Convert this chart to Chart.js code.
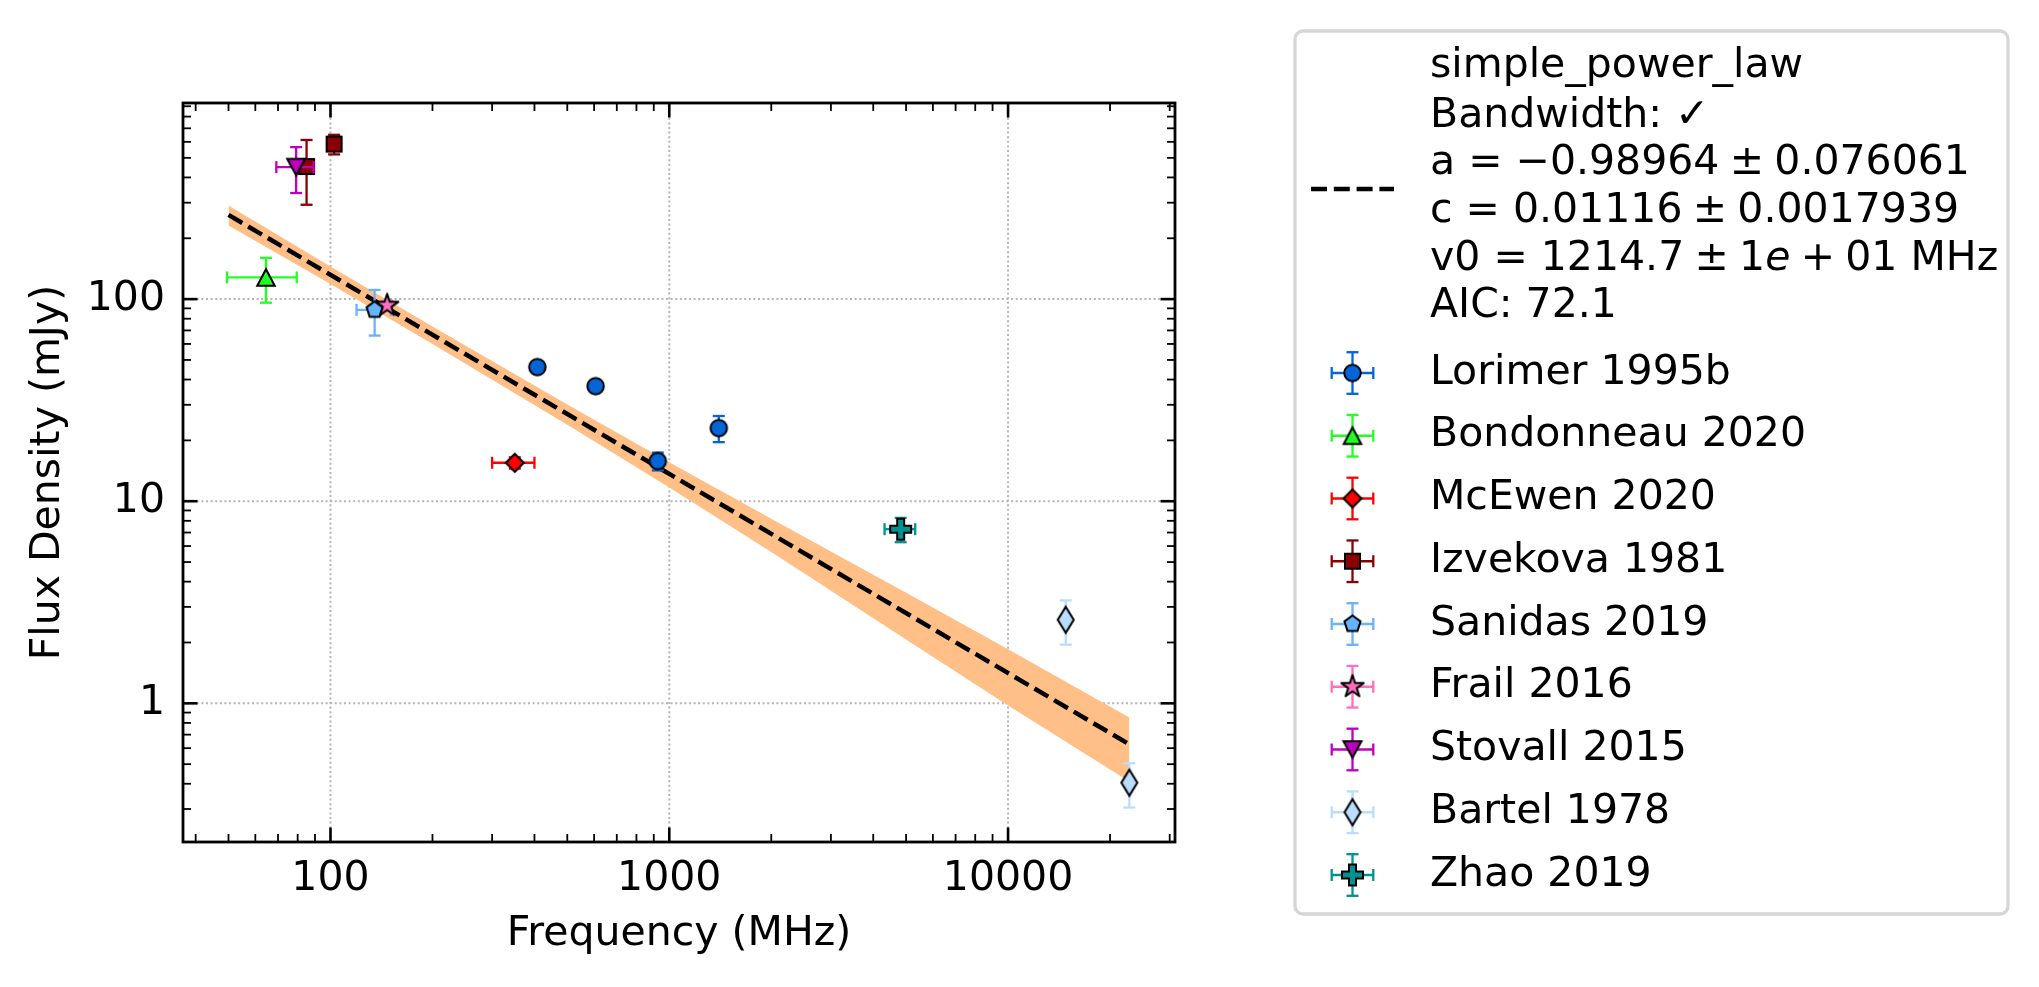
<!DOCTYPE html>
<html>
<head>
<meta charset="utf-8">
<script src="https://cdn.jsdelivr.net/npm/chart.js@4.4.1/dist/chart.umd.min.js"></script>
<style>
html,body{margin:0;padding:0;background:#fff;overflow:hidden}
canvas{display:block}
</style>
</head>
<body>
<canvas id="c" width="2039" height="987" style="width:2039px;height:987px"></canvas>
<script>
// ---------------- data ----------------
const xTickValues = [100, 1000, 10000];
const yTickValues = [1, 10, 100];
const xRange = [36.7, 31100];
const yRange = [0.206, 934];

const fitFreq = [50, 22800];
const fitFlux = [261, 0.627];
const bandFreq  = [50, 100, 200, 500, 1000, 2000, 5000, 10000, 22800];
const bandUpper = [290.5, 145, 73.3, 30.1, 15.6, 8.2, 3.52, 1.85, 0.85];
const bandLower = [231.5, 118.7, 59.9, 23.9, 11.7, 5.6, 2.07, 0.975, 0.41];

const seriesNames = ['Lorimer 1995b', 'Bondonneau 2020', 'McEwen 2020', 'Izvekova 1981',
                     'Sanidas 2019', 'Frail 2016', 'Stovall 2015', 'Bartel 1978', 'Zhao 2019'];

const lorimerFreq = [408, 606, 925, 1400];
const lorimerFlux = [46.1, 37.1, 15.8, 23.0];
const lorimerFreqErr = [0, 0, 0, 0];
const lorimerFluxErr = [2.0, 1.5, 1.6, 3.4];

const bondonneauFreq = [64.5];
const bondonneauFlux = [128];
const bondonneauFreqErr = [15];
const bondonneauFluxErr = [32];

const mcewenFreq = [350];
const mcewenFlux = [15.5];
const mcewenFreqErr = [50];
const mcewenFluxErr = [1.0];

const izvekovaFreq = [85, 102.5];
const izvekovaFlux = [453, 585];
const izvekovaFreqErr = [0, 0];
const izvekovaFluxErr = [160, 65];

const sanidasFreq = [135];
const sanidasFlux = [88.5];
const sanidasFreqErr = [15.6];
const sanidasFluxErr = [22.5];

const frailFreq = [147];
const frailFlux = [93];
const frailFreqErr = [0];
const frailFluxErr = [5];

const stovallFreq = [79.2];
const stovallFlux = [450];
const stovallFreqErr = [10];
const stovallFluxErr = [115];

const bartelFreq = [14800, 22800];
const bartelFlux = [2.59, 0.405];
const bartelFreqErr = [0, 0];
const bartelFluxErr = [0.64, 0.10];

const zhaoFreq = [4820];
const zhaoFlux = [7.27];
const zhaoFreqErr = [500];
const zhaoFluxErr = [1.0];

const SP = '\u2005';
const fitLabelLines = ['simple_power_law', 'Bandwidth: \u2713',
                       'a = \u22120.98964' + SP + '\u00b1' + SP + '0.076061',
                       'c = 0.01116' + SP + '\u00b1' + SP + '0.0017939',
                       'v0 = 1214.7' + SP + '\u00b1' + SP + '1e' + SP + '+' + SP + '01 MHz',
                       'AIC: 72.1'];
const xTitle = 'Frequency (MHz)';
const yTitle = 'Flux Density (mJy)';

// ---------------- styling ----------------
const FONT = "'DejaVu Sans', 'Liberation Sans', sans-serif";
const FS = 41;
const seriesStyles = [
  {color: '#0565d6', shape: 'circle',      w: 16.5, h: 16.5},
  {color: '#22ff22', shape: 'triUp',       w: 17.5, h: 16.5},
  {color: '#ff0000', shape: 'diamond',     w: 18,   h: 18},
  {color: '#8b0000', shape: 'square',      w: 15,   h: 15},
  {color: '#66b3ff', shape: 'pentagon',    w: 17,   h: 17},
  {color: '#ff6fbe', shape: 'star',        w: 23.5, h: 23.5},
  {color: '#bf00bf', shape: 'triDown',     w: 18,   h: 16.5},
  {color: '#b9dcff', shape: 'thinDiamond', w: 16,   h: 26},
  {color: '#009191', shape: 'plus',        w: 21,   h: 21}
];

const seriesData = [
  [lorimerFreq, lorimerFlux, lorimerFreqErr, lorimerFluxErr],
  [bondonneauFreq, bondonneauFlux, bondonneauFreqErr, bondonneauFluxErr],
  [mcewenFreq, mcewenFlux, mcewenFreqErr, mcewenFluxErr],
  [izvekovaFreq, izvekovaFlux, izvekovaFreqErr, izvekovaFluxErr],
  [sanidasFreq, sanidasFlux, sanidasFreqErr, sanidasFluxErr],
  [frailFreq, frailFlux, frailFreqErr, frailFluxErr],
  [stovallFreq, stovallFlux, stovallFreqErr, stovallFluxErr],
  [bartelFreq, bartelFlux, bartelFreqErr, bartelFluxErr],
  [zhaoFreq, zhaoFlux, zhaoFreqErr, zhaoFluxErr]
];

function makeMarker(shape, color, w, h) {
  const lw = 2, pad = 7;
  const c = document.createElement('canvas');
  c.width = Math.round(w + 2 * pad);
  c.height = Math.round(h + 2 * pad);
  const g = c.getContext('2d');
  g.translate(c.width / 2, c.height / 2);
  const rx = w / 2, ry = h / 2;
  g.beginPath();
  const poly = pts => { g.moveTo(pts[0][0], pts[0][1]); for (let i = 1; i < pts.length; i++) g.lineTo(pts[i][0], pts[i][1]); g.closePath(); };
  if (shape === 'circle') g.arc(0, 0, rx, 0, Math.PI * 2);
  else if (shape === 'triUp') poly([[0, -ry], [rx, ry], [-rx, ry]]);
  else if (shape === 'triDown') poly([[0, ry], [rx, -ry], [-rx, -ry]]);
  else if (shape === 'square') g.rect(-rx, -ry, w, h);
  else if (shape === 'diamond' || shape === 'thinDiamond') poly([[0, -ry], [rx, 0], [0, ry], [-rx, 0]]);
  else if (shape === 'pentagon') {
    const pts = [];
    for (let k = 0; k < 5; k++) { const a = -Math.PI / 2 + k * 2 * Math.PI / 5; pts.push([rx * Math.cos(a), rx * Math.sin(a)]); }
    poly(pts);
  } else if (shape === 'star') {
    const pts = [];
    for (let k = 0; k < 10; k++) { const r = k % 2 ? rx * 0.381966 : rx; const a = -Math.PI / 2 + k * Math.PI / 5; pts.push([r * Math.cos(a), r * Math.sin(a)]); }
    poly(pts);
  } else if (shape === 'plus') {
    const a = rx, b = rx / 3;
    poly([[-b, -a], [b, -a], [b, -b], [a, -b], [a, b], [b, b], [b, a], [-b, a], [-b, b], [-a, b], [-a, -b], [-b, -b]]);
  }
  g.fillStyle = color;
  g.fill();
  g.lineWidth = lw;
  g.lineJoin = shape === 'star' ? 'round' : 'miter';
  g.strokeStyle = '#000';
  g.stroke();
  return c;
}

const markerCanvases = seriesStyles.map(s => makeMarker(s.shape, s.color, s.w, s.h));

// ---------------- datasets ----------------
const DASH = [16, 6.8];
const datasets = [
  {
    type: 'line', label: 'band_upper',
    data: bandFreq.map((f, i) => ({x: f, y: bandUpper[i]})),
    borderWidth: 0, borderColor: 'rgba(0,0,0,0)', pointRadius: 0, tension: 0,
    fill: '+1', backgroundColor: '#ffbf86', order: 100
  },
  {
    type: 'line', label: 'band_lower',
    data: bandFreq.map((f, i) => ({x: f, y: bandLower[i]})),
    borderWidth: 0, borderColor: 'rgba(0,0,0,0)', pointRadius: 0, tension: 0,
    fill: false, order: 100
  },
  {
    type: 'line', label: 'simple_power_law',
    data: fitFreq.map((f, i) => ({x: f, y: fitFlux[i]})),
    borderColor: '#000', borderWidth: 4.5, borderDash: DASH, borderCapStyle: 'butt',
    pointRadius: 0, tension: 0, fill: false, order: 99
  }
];
seriesData.forEach((d, i) => {
  datasets.push({
    type: 'scatter', label: seriesNames[i],
    data: d[0].map((f, j) => ({x: f, y: d[1][j]})),
    errX: d[2], errY: d[3], errColor: seriesStyles[i].color,
    pointStyle: markerCanvases[i], pointRadius: 10, pointHoverRadius: 10,
    showLine: false, order: 50 - i
  });
});

// ---------------- plugins ----------------
const ERR_LW = 2.3, CAP = 6;
function errLine(ctx, x1, y1, x2, y2) { ctx.beginPath(); ctx.moveTo(x1, y1); ctx.lineTo(x2, y2); ctx.stroke(); }

const gridPlugin = {
  id: 'mplGrid',
  beforeDatasetsDraw(chart) {
    const {ctx, chartArea: a, scales: {x, y}} = chart;
    ctx.save();
    ctx.strokeStyle = '#b4b4b4';
    ctx.lineWidth = 2;
    ctx.setLineDash([2, 2.6]);
    xTickValues.forEach(v => { const p = x.getPixelForValue(v); errLine(ctx, p, a.bottom, p, a.top); });
    yTickValues.forEach(v => { const p = y.getPixelForValue(v); errLine(ctx, a.left, p, a.right, p); });
    ctx.restore();
  }
};

const errPlugin = {
  id: 'errbars',
  beforeDatasetDraw(chart, args) {
    const ds = chart.data.datasets[args.index];
    if (!ds.errY) return;
    const {ctx, scales: {x, y}} = chart;
    ctx.save();
    ctx.strokeStyle = ds.errColor;
    ctx.lineWidth = ERR_LW;
    ds.data.forEach((p, j) => {
      const px = x.getPixelForValue(p.x), py = y.getPixelForValue(p.y);
      const xe = ds.errX[j], ye = ds.errY[j];
      if (xe > 0) {
        const x1 = x.getPixelForValue(p.x - xe), x2 = x.getPixelForValue(p.x + xe);
        errLine(ctx, x1, py, x2, py);
        errLine(ctx, x1, py - CAP, x1, py + CAP);
        errLine(ctx, x2, py - CAP, x2, py + CAP);
      }
      if (ye > 0) {
        const y1 = y.getPixelForValue(p.y + ye), y2 = y.getPixelForValue(p.y - ye);
        errLine(ctx, px, y1, px, y2);
        errLine(ctx, px - CAP, y1, px + CAP, y1);
        errLine(ctx, px - CAP, y2, px + CAP, y2);
      }
    });
    ctx.restore();
  }
};

function minorValues(decades, lo, hi) {
  const out = [];
  decades.forEach(d => { for (let k = 2; k <= 9; k++) { const v = k * d; if (v > lo && v < hi) out.push(v); } });
  return out;
}

const framePlugin = {
  id: 'frame',
  afterDatasetsDraw(chart) {
    const {ctx, chartArea: a, scales: {x, y}} = chart;
    ctx.save();
    ctx.strokeStyle = '#000';
    const tx = (v, len, w) => { const p = x.getPixelForValue(v); ctx.lineWidth = w; errLine(ctx, p, a.bottom, p, a.bottom - len); errLine(ctx, p, a.top, p, a.top + len); };
    const ty = (v, len, w) => { const p = y.getPixelForValue(v); ctx.lineWidth = w; errLine(ctx, a.left, p, a.left + len, p); errLine(ctx, a.right, p, a.right - len, p); };
    minorValues([10, 100, 1000, 10000], xRange[0], xRange[1]).forEach(v => tx(v, 8, 1.8));
    minorValues([0.1, 1, 10, 100], yRange[0], yRange[1]).forEach(v => ty(v, 8, 1.8));
    xTickValues.forEach(v => tx(v, 14.5, 2.6));
    yTickValues.forEach(v => ty(v, 14.5, 2.6));
    ctx.lineWidth = 2.8;
    ctx.strokeRect(a.left, a.top, a.right - a.left, a.bottom - a.top);
    ctx.restore();
  }
};

function roundRectPath(ctx, x1, y1, x2, y2, r) {
  ctx.beginPath();
  ctx.moveTo(x1 + r, y1);
  ctx.lineTo(x2 - r, y1); ctx.arcTo(x2, y1, x2, y1 + r, r);
  ctx.lineTo(x2, y2 - r); ctx.arcTo(x2, y2, x2 - r, y2, r);
  ctx.lineTo(x1 + r, y2); ctx.arcTo(x1, y2, x1, y2 - r, r);
  ctx.lineTo(x1, y1 + r); ctx.arcTo(x1, y1, x1 + r, y1, r);
  ctx.closePath();
}

function drawLabelLine(ctx, text, x, y) {
  const m = text.match(/^(.*\d)e(\s\+.*)$/);
  ctx.font = `${FS}px ${FONT}`;
  if (!m) { ctx.fillText(text, x, y); return; }
  ctx.fillText(m[1], x, y);
  let cx = x + ctx.measureText(m[1]).width;
  ctx.font = `italic ${FS}px ${FONT}`;
  ctx.fillText('e', cx, y);
  cx += ctx.measureText('e').width;
  ctx.font = `${FS}px ${FONT}`;
  ctx.fillText(m[2], cx, y);
}

const legendPlugin = {
  id: 'mplLegend',
  afterDraw(chart) {
    const ctx = chart.ctx;
    ctx.save();
    roundRectPath(ctx, 1295, 31, 2008, 914, 8);
    ctx.fillStyle = '#ffffff';
    ctx.fill();
    ctx.strokeStyle = '#d6d6d6';
    ctx.lineWidth = 3.3;
    ctx.stroke();

    // fit line handle
    ctx.strokeStyle = '#000';
    ctx.lineWidth = 4.5;
    ctx.lineCap = 'butt';
    ctx.setLineDash(DASH);
    errLine(ctx, 1311, 189, 1394, 189);
    ctx.setLineDash([]);

    ctx.fillStyle = '#000';
    ctx.textAlign = 'left';
    ctx.textBaseline = 'middle';
    const lineY = [66, 116, 163.5, 211, 259, 306];
    fitLabelLines.forEach((t, i) => drawLabelLine(ctx, t, 1430, lineY[i]));

    seriesNames.forEach((name, i) => {
      const yc = 373 + 62.75 * i, xc = 1352.5;
      ctx.strokeStyle = seriesStyles[i].color;
      ctx.lineWidth = ERR_LW;
      const e = 20.8;
      errLine(ctx, xc - e, yc, xc + e, yc);
      errLine(ctx, xc - e, yc - CAP, xc - e, yc + CAP);
      errLine(ctx, xc + e, yc - CAP, xc + e, yc + CAP);
      errLine(ctx, xc, yc - e, xc, yc + e);
      errLine(ctx, xc - CAP, yc - e, xc + CAP, yc - e);
      errLine(ctx, xc - CAP, yc + e, xc + CAP, yc + e);
      const mc = markerCanvases[i];
      ctx.drawImage(mc, xc - mc.width / 2, yc - mc.height / 2);
      ctx.fillStyle = '#000';
      ctx.font = `${FS}px ${FONT}`;
      ctx.fillText(name, 1430, yc);
    });
    ctx.restore();
  }
};

// ---------------- chart ----------------
const tickFont = {family: FONT, size: FS};
new Chart(document.getElementById('c'), {
  type: 'scatter',
  data: {datasets},
  options: {
    responsive: false,
    devicePixelRatio: 1,
    animation: false,
    events: [],
    layout: {padding: {left: 0, top: 103, right: 864, bottom: 0}},
    plugins: {legend: {display: false}, tooltip: {enabled: false}},
    scales: {
      x: {
        type: 'logarithmic', position: 'bottom', min: xRange[0], max: xRange[1],
        afterBuildTicks: s => { s.ticks = xTickValues.map(v => ({value: v})); },
        afterFit: s => { s.height = 145; },
        grid: {display: false, drawTicks: false},
        border: {display: false},
        ticks: {font: tickFont, color: '#000', padding: 13, autoSkip: false, maxRotation: 0, minRotation: 0,
                callback: v => String(v)},
        title: {display: true, text: xTitle, color: '#000', font: tickFont, padding: {top: 0, bottom: 28}}
      },
      y: {
        type: 'logarithmic', position: 'left', min: yRange[0], max: yRange[1],
        afterBuildTicks: s => { s.ticks = yTickValues.map(v => ({value: v})); },
        afterFit: s => { s.width = 183; },
        grid: {display: false, drawTicks: false},
        border: {display: false},
        ticks: {font: tickFont, color: '#000', padding: 18, autoSkip: false, callback: v => String(v)},
        title: {display: true, text: yTitle, color: '#000', font: tickFont, padding: {top: 24, bottom: 0}}
      }
    }
  },
  plugins: [gridPlugin, errPlugin, framePlugin, legendPlugin]
});
</script>
</body>
</html>
